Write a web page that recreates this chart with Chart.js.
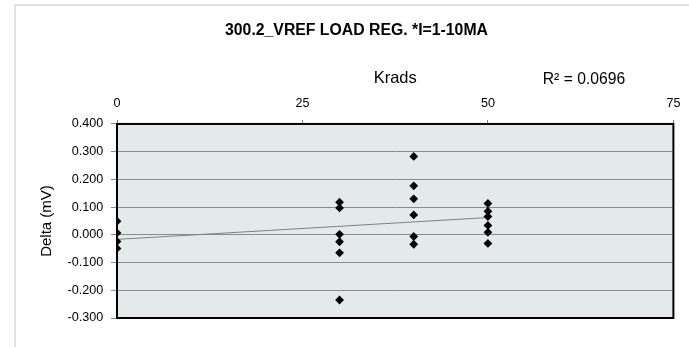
<!DOCTYPE html>
<html><head><meta charset="utf-8">
<script src="https://cdn.jsdelivr.net/npm/chart.js@4.4.1/dist/chart.umd.min.js"></script>
<style>html,body{margin:0;padding:0;background:#fff}#wrap{width:689px;height:347px;position:relative}</style>
</head><body><div id="wrap"><canvas id="c" width="689" height="347"></canvas></div>
<script>
// ---- data ----
const chartTitle = '300.2_VREF LOAD REG. *I=1-10MA';
const xAxisTitle = 'Krads';
const yAxisTitle = 'Delta (mV)';
const r2Label = 'R\u00b2 = 0.0696';
const doseKrads = [0, 0, 0, 0,
                   30, 30, 30, 30, 30, 30,
                   40, 40, 40, 40, 40, 40,
                   50, 50, 50, 50, 50, 50];
const deltaMV   = [0.049, 0.007, -0.024, -0.049,
                   0.118, 0.097, 0.002, -0.025, -0.065, -0.235,
                   0.283, 0.177, 0.130, 0.072, -0.006, -0.034,
                   0.113, 0.085, 0.066, 0.034, 0.009, -0.031];
const xTickValues = [0, 25, 50, 75];
const yTickValues = [-0.3, -0.2, -0.1, 0, 0.1, 0.2, 0.3, 0.4];

// linear trendline (least squares, as the spreadsheet does)
const n = doseKrads.length;
const mx = doseKrads.reduce((a, b) => a + b, 0) / n;
const my = deltaMV.reduce((a, b) => a + b, 0) / n;
let sxy = 0, sxx = 0;
for (let i = 0; i < n; i++) { sxy += (doseKrads[i] - mx) * (deltaMV[i] - my); sxx += (doseKrads[i] - mx) ** 2; }
const slope = sxy / sxx, intercept = my - slope * mx;
const xMinData = Math.min(...doseKrads), xMaxData = Math.max(...doseKrads);
const trendPoints = [xMinData, xMaxData].map(x => ({x, y: intercept + slope * x}));

const points = doseKrads.map((x, i) => ({x, y: deltaMV[i]}));

const FONT = "'Liberation Sans', Arial, sans-serif";

const decor = {
  id: 'decor',
  beforeDraw(chart) {
    const {ctx, chartArea: a} = chart;
    ctx.save();
    ctx.fillStyle = '#ffffff';
    ctx.fillRect(0, 0, chart.width, chart.height);
    ctx.strokeStyle = '#d9d9d9';
    ctx.lineWidth = 1.5;
    ctx.beginPath();
    ctx.moveTo(15, chart.height); ctx.lineTo(15, 5); ctx.lineTo(chart.width, 5);
    ctx.stroke();
    ctx.fillStyle = '#e4eaea';
    ctx.fillRect(a.left, a.top, a.right - a.left, a.bottom - a.top);
    ctx.restore();
  },
  beforeDatasetsDraw(chart) {
    const {ctx, chartArea: a} = chart;
    ctx.save();
    ctx.strokeStyle = '#000000';
    ctx.lineWidth = 2;
    ctx.strokeRect(a.left, a.top, a.right - a.left, a.bottom - a.top);
    ctx.restore();
  },
  afterDraw(chart) {
    const {ctx} = chart;
    ctx.save();
    ctx.fillStyle = '#000000';
    ctx.font = '15.7px ' + FONT;
    ctx.textAlign = 'center';
    ctx.textBaseline = 'middle';
    ctx.fillText(r2Label, 584, 80);
    ctx.restore();
  }
};

new Chart(document.getElementById('c'), {
  type: 'scatter',
  data: {
    datasets: [
      {
        label: 'Delta',
        data: points,
        pointStyle: 'rectRot',
        pointRadius: 4.4,
        pointHoverRadius: 4.4,
        backgroundColor: '#000000',
        borderColor: '#000000',
        borderWidth: 0,
        order: 1
      },
      {
        type: 'line',
        label: 'Linear',
        data: trendPoints,
        borderColor: '#808080',
        borderWidth: 1,
        pointRadius: 0,
        fill: false,
        order: 2
      }
    ]
  },
  options: {
    responsive: false,
    animation: false,
    devicePixelRatio: 1,
    layout: {padding: {left: 38, right: 14, top: 0, bottom: 29}},
    plugins: {
      legend: {display: false},
      tooltip: {enabled: false},
      title: {
        display: true,
        text: chartTitle,
        color: '#000000',
        font: {family: FONT, size: 15.8, weight: 'bold', lineHeight: 1.2},
        padding: {top: 21.5, bottom: 0}
      }
    },
    scales: {
      x: {
        type: 'linear',
        position: 'top',
        min: 0, max: 75,
        afterBuildTicks(scale) { scale.ticks = xTickValues.map(v => ({value: v})); },
        afterFit(scale) { scale.height = 83.5; },
        ticks: {
          color: '#000000',
          font: {family: FONT, size: 12.6},
          padding: 8.6,
          maxRotation: 0
        },
        grid: {drawOnChartArea: false, drawTicks: true, tickLength: 4, color: '#808080'},
        border: {display: false},
        title: {
          display: true,
          text: xAxisTitle,
          color: '#000000',
          font: {family: FONT, size: 16.5, lineHeight: 1.2},
          padding: {top: 28.1, bottom: 0}
        }
      },
      y: {
        type: 'linear',
        position: 'left',
        min: -0.3, max: 0.4,
        afterBuildTicks(scale) { scale.ticks = yTickValues.map(v => ({value: v})); },
        afterFit(scale) { scale.width = 79; },
        ticks: {
          color: '#000000',
          font: {family: FONT, size: 12.6},
          padding: 7.7,
          callback: v => v.toFixed(3)
        },
        grid: {drawOnChartArea: true, drawTicks: true, tickLength: 6, color: '#8a8a8a', lineWidth: 1},
        border: {display: false},
        title: {
          display: true,
          text: yAxisTitle,
          color: '#000000',
          font: {family: FONT, size: 15, lineHeight: 1.2},
          padding: {top: 0, bottom: 0}
        }
      }
    }
  },
  plugins: [decor]
});
</script>
</body></html>
